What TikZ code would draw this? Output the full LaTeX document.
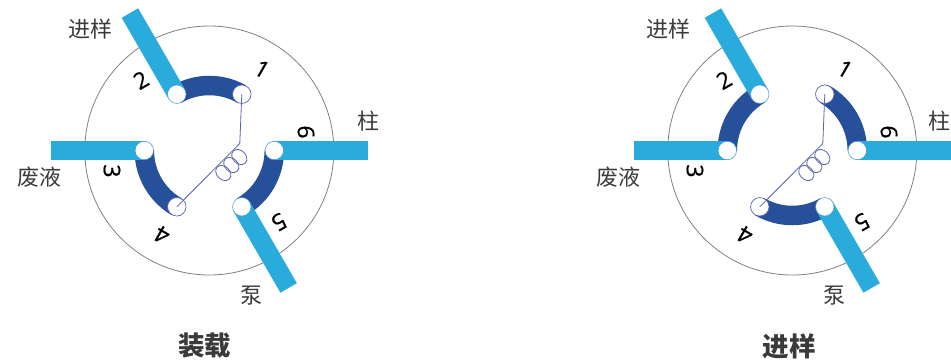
\documentclass[tikz,border=0pt]{standalone}
\usepackage{fontspec}
\setmainfont[FakeBold=0.6]{Open Sans}
\newfontfamily\cjk{Noto Sans CJK SC}
\usetikzlibrary{calc}
\definecolor{barblue}{HTML}{29ABDC}
\definecolor{chanblue}{HTML}{27509B}
\definecolor{wireblue}{HTML}{5B64AE}
\definecolor{ringgray}{HTML}{808080}
\definecolor{txtgray}{HTML}{3A3A3A}
\tikzset{
 ring/.style={draw=ringgray,line width=.8pt},
 barline/.style={barblue,line width=19pt},
 chanline/.style={chanblue,line width=19.5pt},
 portcirc/.style={circle,fill=white,inner sep=0pt,minimum size=18.5pt,draw=barblue!70!wireblue,line width=.5pt},
 wireport/.style={portcirc,draw=wireblue,line width=.7pt},
 wirestyle/.style={draw=wireblue,line width=.8pt},
 numlabel/.style={font=\fontsize{23}{23}\selectfont,text=black,inner sep=0pt},
 zhlabel/.style={font=\cjk\fontsize{22}{22}\selectfont,text=txtgray,inner sep=0pt},
 titlelabel/.style={font=\cjk\bfseries\fontsize{26.5}{26.5}\selectfont,text=txtgray,inner sep=0pt}
}
\newcommand{\valve}[7]{%
\begin{scope}[shift={(#1pt,0pt)}]
 \coordinate (c#3) at (209.3pt,-150.5pt);
 \draw[ring] (c#3) circle (124.5pt);
 \foreach \a/\b in {#2}{
  \draw[chanline] ($(c#3)+(\a:65pt)$) arc[start angle=\a,end angle=\b,radius=65pt];
 }
 \foreach \n/\a in {3/180,6/0,2/120,5/-60}{
  \coordinate (p#3\n) at ($(c#3)+(\a:65pt)$);
  \coordinate (e#3\n) at ($(c#3)+(\a:158.7pt)$);
  \draw[barline] (e#3\n) -- (p#3\n);
  \node[portcirc] (n#3\n) at (p#3\n) {};
 }
 \foreach \n/\a in {1/60,4/-120}{
  \node[wireport] (n#3\n) at ($(c#3)+(\a:65pt)$) {};
 }
 \coordinate (k#3) at ($(c#3)+(30.5pt,7pt)$);
 \draw[wirestyle] (n#31.center) -- (k#3) -- (n#34.center);
 \foreach \dx/\dy in {30/-6.5,22/-14.5,14/-22.5}{
  \draw[wirestyle] ($(c#3)+(\dx pt,\dy pt)$) circle [x radius=8.5pt,y radius=6.5pt,rotate=-45];
 }
 \node[numlabel,rotate=-30] (l#3a) at (262pt,-69pt) {1};
 \node[numlabel,rotate=30] (l#3b) at (141pt,-80pt) {2};
 \node[numlabel,rotate=-90] (l#3c) at (112pt,-171pt) {3};
 \node[numlabel,rotate=150] (l#3d) at (162pt,-235pt) {4};
 \node[numlabel,rotate=-150] (l#3e) at (279pt,-222pt) {5};
 \node[numlabel,rotate=-90] (l#3f) at (306pt,-132pt) {6};
 \node[zhlabel] (z#3a) at (#4pt,-29.5pt) {进样};
 \node[zhlabel] (z#3b) at (#5pt,-121pt) {柱};
 \node[zhlabel] (z#3c) at (#6pt,-177pt) {废液};
 \node[zhlabel] (z#3d) at (#7pt,-296pt) {泵};
\end{scope}}
\begin{document}
\begin{tikzpicture}
 \useasboundingbox (0pt,0pt) rectangle (951pt,-359pt);
 \clip (0pt,0pt) rectangle (951pt,-359pt);
 \valve{0}{120/60,180/240,0/-60}{A}{90}{368.5}{39.5}{251}
 \valve{583}{120/180,60/0,240/300}{B}{85}{356.5}{35}{251}
 \node[titlelabel] (ta) at (204.5pt,-346pt) {装载};
 \node[titlelabel] (tb) at (789pt,-346pt) {进样};
\end{tikzpicture}
\end{document}
